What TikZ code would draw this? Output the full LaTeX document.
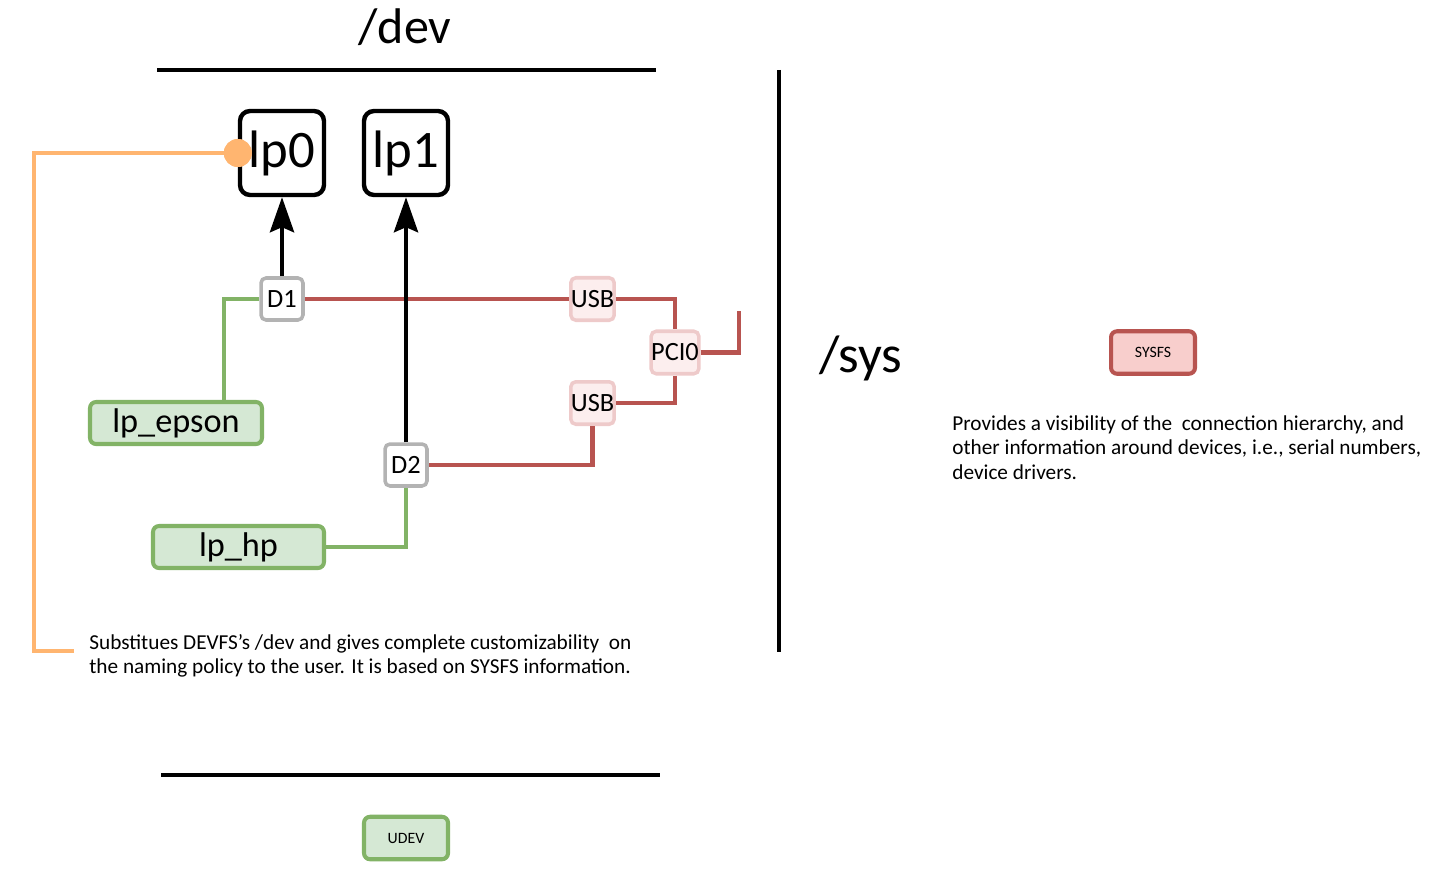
\documentclass[tikz,border=0pt]{standalone}
\usepackage{fontspec}
\setmainfont{Carlito}
\usetikzlibrary{arrows.meta}
\definecolor{redline}{HTML}{B85450}
\definecolor{greenline}{HTML}{82B366}
\definecolor{greenfill}{HTML}{D5E8D4}
\definecolor{redfill}{HTML}{F8CECC}
\definecolor{pinkfill}{HTML}{FCEEEE}
\definecolor{pinkline}{HTML}{EECACA}
\definecolor{orangeline}{HTML}{FFB570}
\definecolor{grayline}{HTML}{B3B3B3}
\tikzset{
  devbox/.style={draw=black, line width=2.5pt, fill=white, rounded corners=0.2cm,
    minimum width=1.68cm, minimum height=1.68cm, inner sep=0pt, font=\fontsize{30}{30}\selectfont},
  drvbox/.style={draw=grayline, line width=2pt, fill=white, rounded corners=0.1cm,
    minimum width=0.84cm, minimum height=0.84cm, inner sep=0pt, font=\fontsize{15}{15}\selectfont},
  busbox/.style={draw=pinkline, line width=2pt, fill=pinkfill, rounded corners=0.1cm,
    minimum width=0.86cm, minimum height=0.85cm, inner sep=0pt, font=\fontsize{15}{15}\selectfont},
  namebox/.style={draw=greenline, line width=2.3pt, fill=greenfill, rounded corners=0.12cm,
    minimum height=0.84cm, inner sep=0pt, font=\fontsize{19.5}{19.5}\selectfont},
  tagbox/.style={line width=2.3pt, rounded corners=0.12cm,
    minimum width=1.68cm, minimum height=0.85cm, inner sep=0pt, font=\fontsize{9}{9}\selectfont},
  rededge/.style={draw=redline, line width=2.7pt},
  greenedge/.style={draw=greenline, line width=2.5pt},
  orangeedge/.style={draw=orangeline, line width=2.4pt},
  arrowedge/.style={draw=black, line width=2.6pt, -{Stealth[length=0.7cm,width=0.48cm,inset=0.1cm]}},
  sepline/.style={draw=black, line width=2.7pt},
  bigtitle/.style={inner sep=0pt, font=\fontsize{30}{30}\selectfont},
  desc/.style={inner sep=0pt, align=left, anchor=north west, font=\fontsize{12.1}{14}\selectfont},
}
\begin{document}
\begin{tikzpicture}[x=0.02cm, y=-0.02cm]
\useasboundingbox (0,0) rectangle (1430,892);
% separators
\coordinate (t1) at (157,70); \coordinate (t2) at (656,70);
\coordinate (b1) at (161,775); \coordinate (b2) at (660,775);
\coordinate (v1) at (779,70); \coordinate (v2) at (779,652);
\draw[sepline] (t1) -- (t2);
\draw[sepline] (b1) -- (b2);
\draw[sepline] (v1) -- (v2);
% titles
\node[bigtitle, font=\fontsize{28.5}{28.5}\selectfont] (devt) at (405,27) {/dev};
\node[bigtitle] (syst) at (861,358) {/sys};
% nodes
\node[devbox] (lp0) at (282,153) {lp0};
\node[devbox] (lp1) at (406,153) {lp1};
\node[drvbox] (D1) at (282,299) {D1};
\node[drvbox] (D2) at (406,465) {D2};
\node[busbox] (usb1) at (592.5,299) {USB};
\node[busbox] (pci) at (675,352.5) {PCI0};
\node[busbox] (usb2) at (592.5,403) {USB};
\node[namebox, minimum width=3.44cm] (epson) at (176,423) {lp\_epson};
\node[namebox, minimum width=3.42cm] (hp) at (238.5,547) {lp\_hp};
\node[tagbox, draw=greenline, fill=greenfill] (udev) at (406,838) {UDEV};
\node[tagbox, draw=redline, fill=redfill] (sysfs) at (1153,352.5) {SYSFS};
% red connectors
\coordinate (rend) at (739,311);
\draw[rededge] (D1.east) -- (usb1.west);
\draw[rededge] (usb1.east) -| (pci.north);
\draw[rededge] (pci.south) |- (usb2.east);
\draw[rededge] (usb2.south) |- (D2.east);
\draw[rededge] (pci.east) -| (rend);
% green connectors
\draw[greenedge] (D1.west) -| ([xshift=0.96cm]epson.north);
\draw[greenedge] (hp.east) -| (D2.south);
% arrows
\draw[arrowedge] (D1.north) -- (lp0.south);
\draw[arrowedge] (D2.north) -- (lp1.south);
% orange
\coordinate (ocorner) at (34,651);
\coordinate (oend) at (74,651);
\node[circle, fill=orangeline, minimum size=0.56cm, inner sep=0pt] (dot) at (lp0.west) {};
\draw[orangeedge] (dot.center) -| (ocorner) -- (oend);
\node[circle, fill=orangeline, minimum size=0.56cm, inner sep=0pt] at (dot) {};
% descriptions
\node[desc] (sysdesc) at (952,415) {Provides a visibility of the~ connection hierarchy, and\\other information around devices, i.e., serial numbers,\\device drivers.};
\node[desc] (udevdesc) at (89,634) {Substitues DEVFS's /dev and gives complete customizability~ on\\the naming policy to the user. It is based on SYSFS information.};
\end{tikzpicture}
\end{document}
